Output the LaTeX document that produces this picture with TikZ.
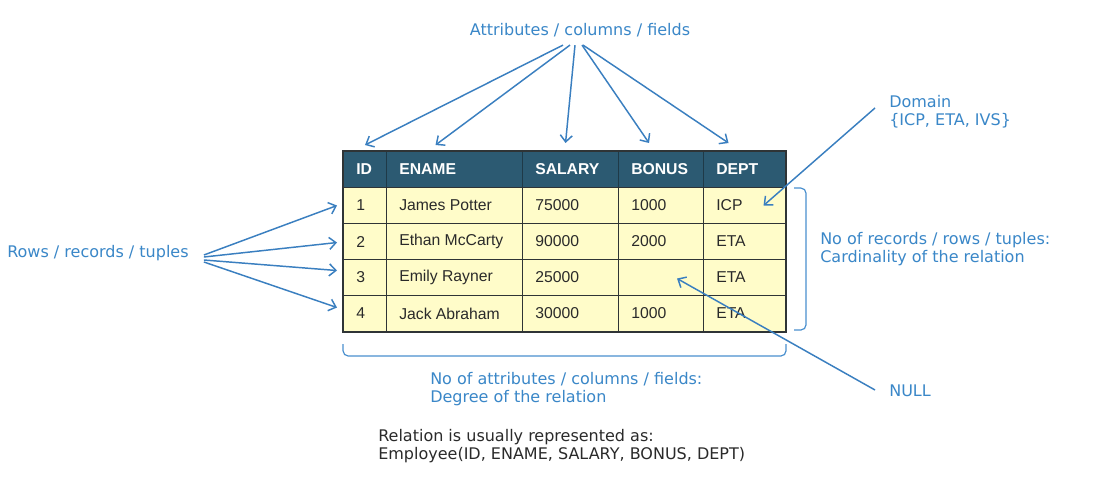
\documentclass[tikz,border=0pt]{standalone}
\usepackage{fontspec}
\setmainfont{DejaVu Sans}
\newfontfamily\tabfont{Liberation Sans}
\usetikzlibrary{arrows.meta, positioning, calc}
\definecolor{lblue}{HTML}{3A87C8}
\definecolor{ablue}{HTML}{3A7FC0}
\definecolor{bblue}{HTML}{4A90CF}
\definecolor{hdrteal}{HTML}{2C5A72}
\definecolor{hdrline}{HTML}{1F3A48}
\definecolor{cellyel}{HTML}{FFFCC9}
\definecolor{gridgray}{HTML}{2F3436}
\definecolor{txtdark}{HTML}{2A2A2A}

\tikzset{
  lbl/.style={font=\fontsize{12}{13.5}\selectfont, text=lblue, inner sep=0pt},
  arr/.style={draw=ablue, line width=1.1pt, -{Straight Barb[length=5pt, width=9pt]}},
  brace/.style={draw=bblue, line width=0.9pt, rounded corners=4pt},
  hcell/.style={anchor=north west, minimum height=27pt, inner sep=0pt, fill=hdrteal, draw=hdrline, line width=0.8pt},
  bcell/.style={anchor=north west, minimum height=27pt, inner sep=0pt, fill=cellyel, draw=gridgray, line width=0.8pt},
  htext/.style={anchor=west, inner sep=0pt, font=\tabfont\bfseries\fontsize{11.8}{13}\selectfont, text=white},
  btext/.style={anchor=west, inner sep=0pt, font=\tabfont\fontsize{11.8}{13}\selectfont, text=txtdark}
}

\begin{document}
\begin{tikzpicture}[x=0.75pt, y=-0.75pt]
  \fill[white] (0,0) rectangle (1098,488);
  \useasboundingbox (0,0) rectangle (1098,488);

  %% Header row
  \foreach \n/\x/\w/\t in {id/343/43/ID, en/386/136/ENAME, sa/522/96/SALARY, bo/618/85/BONUS, de/703/82/DEPT}{
    \node[hcell, minimum width=\w*0.75pt] (h\n) at (\x,151) {};
    \node[htext, right=9.75pt of h\n.west] (ht\n) {\t};
  }

  %% Body rows
  \foreach \r/\y/\a/\b/\c/\d/\e in {1/187/1/James Potter/75000/1000/ICP, 2/223/2/Ethan McCarty/90000/2000/ETA, 3/259/3/Emily Rayner/25000//ETA, 4/295/4/Jack Abraham/30000/1000/ETA}{
    \foreach \n/\x/\w/\t in {id/343/43/\a, en/386/136/\b, sa/522/96/\c, bo/618/85/\d, de/703/82/\e}{
      \node[bcell, minimum width=\w*0.75pt] (c\n\r) at (\x,\y) {};
      \node[btext, right=9.75pt of c\n\r.west] (t\n\r) {\t};
    }
  }
  \draw[gridgray, line width=1pt] (hid.north west) rectangle (cde4.south east);

  %% Attributes
  \node[lbl] (attr) at (580,30) {Attributes / columns / fields};
  \foreach \t/\sx/\dx/\dy in {hid/-17/0/-6, hen/-10/-19/-6, hsa/-5/-5/-8, hbo/2/-12/-8, hde/3/-16/-8}{
    \draw[arr] ($(attr.south)+(\sx,8)$) -- ($(\t.north)+(\dx,\dy)$);
  }

  %% Rows
  \node[lbl, anchor=west] (rows) at (7,253) {Rows / records / tuples};
  \foreach \r/\sy/\dy in {1/2/0, 2/4/1, 3/7/-7, 4/9/-6}{
    \draw[arr] ($(rows.east)+(15,\sy)$) -- ($(cid\r.west)+(-6,\dy)$);
  }

  %% Domain and NULL
  \node[lbl, anchor=west, align=left] (domain) at (889,112) {Domain\\\{ICP, ETA, IVS\}};
  \draw[arr] ($(domain.west)+(-14,-4)$) -- ($(cde1.center)+(19,0)$);
  \node[lbl, anchor=west] (null) at (889,391) {NULL};
  \draw[arr] ($(null.west)+(-14,-1)$) -- ($(cbo3.center)+(16,1)$);

  %% Brackets
  \draw[brace] ($(cde1.north east)+(8,1)$) -- ++(12,0) -- ($(cde4.south east)+(20,-2)$) -- ++(-12,0);
  \draw[brace] ($(cid4.south west)+(0,12)$) -- ++(0,12) -- ($(cde4.south east)+(0,24)$) -- ++(0,-12);
  \node[lbl, anchor=west, align=left] (card) at (820,249) {No of records / rows / tuples:\\Cardinality of the relation};
  \node[lbl, anchor=west, align=left] (degree) at (430,389) {No of attributes / columns / fields:\\Degree of the relation};

  %% Relation note
  \node[lbl, anchor=west, align=left, text=txtdark] (rel) at (378,446.5) {Relation is usually represented as:\\Employee(ID, ENAME, SALARY, BONUS, DEPT)};

\end{tikzpicture}
\end{document}
